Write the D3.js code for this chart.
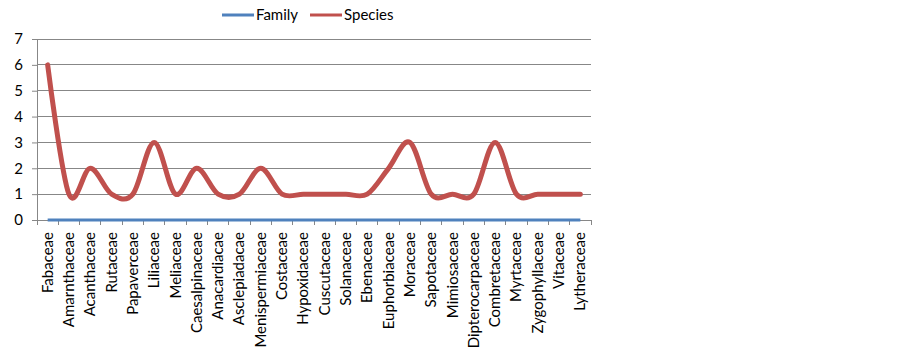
<!DOCTYPE html>
<html>
<head>
<meta charset="utf-8">
<script src="https://cdn.jsdelivr.net/npm/d3@7"></script>
<style>
  body { margin: 0; background: #fff; }
  text { font-family: Lato, "Open Sans", sans-serif; fill: #000; }
</style>
</head>
<body>
<div id="chart-area"></div>
<script>
// categories + series
const families = ['Fabaceae', 'Amarnthaceae', 'Acanthaceae', 'Rutaceae', 'Papaverceae', 'Liliaceae',
  'Meliaceae', 'Caesalpinaceae', 'Anacardiacae', 'Asclepiadacae', 'Menispermiaceae', 'Costaceae',
  'Hypoxidaceae', 'Cuscutaceae', 'Solanaceae', 'Ebenaceae', 'Euphorbiaceae', 'Moraceae', 'Sapotaceae',
  'Mimiosaceae', 'Dipterocarpaceae', 'Combretaceae', 'Myrtaceae', 'Zygophyllaceae', 'Vitaceae', 'Lytheraceae'];
const familyValues = [0, 0, 0, 0, 0, 0, 0, 0, 0, 0, 0, 0, 0, 0, 0, 0, 0, 0, 0, 0, 0, 0, 0, 0, 0, 0];
const speciesValues = [6, 1, 2, 1, 1, 3, 1, 2, 1, 1, 2, 1, 1, 1, 1, 1, 2, 3, 1, 1, 1, 3, 1, 1, 1, 1];
const yTicks = [0, 1, 2, 3, 4, 5, 6, 7];

const W = 902, H = 358;
const margins = { top: 39, left: 37, right: W - 591, bottom: H - 220 };
const width = W - margins.left - margins.right;
const height = H - margins.top - margins.bottom;

const root = d3.select('#chart-area').append('svg')
  .attr('width', W).attr('height', H);
const svg = root.append('g')
  .attr('transform', `translate(${margins.left}, ${margins.top})`);

const x = d3.scaleBand().domain(families).range([0, width]);
const y = d3.scaleLinear().domain([0, 7]).range([height, 0]);
const cx = d => x(d) + x.bandwidth() / 2;

// gridlines
svg.selectAll('.grid')
  .data(yTicks.slice(1))
  .enter().append('line')
  .attr('x1', 0).attr('x2', width)
  .attr('y1', d => y(d)).attr('y2', d => y(d))
  .attr('stroke', '#878787').attr('stroke-width', 1)
  .attr('shape-rendering', 'crispEdges');

// y axis
const yAxis = svg.append('g')
  .call(d3.axisLeft(y).tickValues(yTicks).tickSize(5).tickPadding(9).tickFormat(d3.format('d')));
yAxis.select('.domain').attr('stroke', '#878787');
yAxis.selectAll('.tick line').attr('stroke', '#878787');
yAxis.selectAll('text').attr('font-size', '15px').style('font-family', 'Lato, sans-serif');

// x axis: ticks at band edges
const xAxis = svg.append('g').attr('transform', `translate(0, ${height})`);
xAxis.append('line')
  .attr('x1', 0).attr('x2', width).attr('stroke', '#878787')
  .attr('shape-rendering', 'crispEdges');
xAxis.selectAll('.xtick')
  .data(families.map(f => x(f)).concat([width]))
  .enter().append('line')
  .attr('x1', d => d).attr('x2', d => d)
  .attr('y1', 0).attr('y2', 5)
  .attr('stroke', '#878787')
  .attr('shape-rendering', 'crispEdges');
xAxis.selectAll('.xlabel')
  .data(families)
  .enter().append('text')
  .attr('transform', d => `translate(${cx(d) + 5}, 12) rotate(-90)`)
  .attr('text-anchor', 'end')
  .attr('font-size', '15px')
  .text(d => d);

const line = d3.line()
  .x((d, i) => cx(families[i]))
  .y(d => y(d))
  .curve(d3.curveCardinal.tension(0));

svg.append('path')
  .datum(familyValues)
  .attr('fill', 'none')
  .attr('stroke', '#4F81BD')
  .attr('stroke-width', 3)
  .attr('d', line);

svg.append('path')
  .datum(speciesValues)
  .attr('fill', 'none')
  .attr('stroke', '#C0504D')
  .attr('stroke-width', 5)
  .attr('stroke-linecap', 'round')
  .attr('stroke-linejoin', 'round')
  .attr('d', line);

// legend
const legendItems = [
  { name: 'Family', color: '#4F81BD', x: 222 },
  { name: 'Species', color: '#C0504D', x: 310 }
];
const legend = root.append('g');
legendItems.forEach(item => {
  legend.append('line')
    .attr('x1', item.x).attr('x2', item.x + 32)
    .attr('y1', 15).attr('y2', 15)
    .attr('stroke', item.color).attr('stroke-width', 3);
  legend.append('text')
    .attr('x', item.x + 34).attr('y', 20)
    .attr('font-size', '15px')
    .text(item.name);
});
</script>
</body>
</html>
